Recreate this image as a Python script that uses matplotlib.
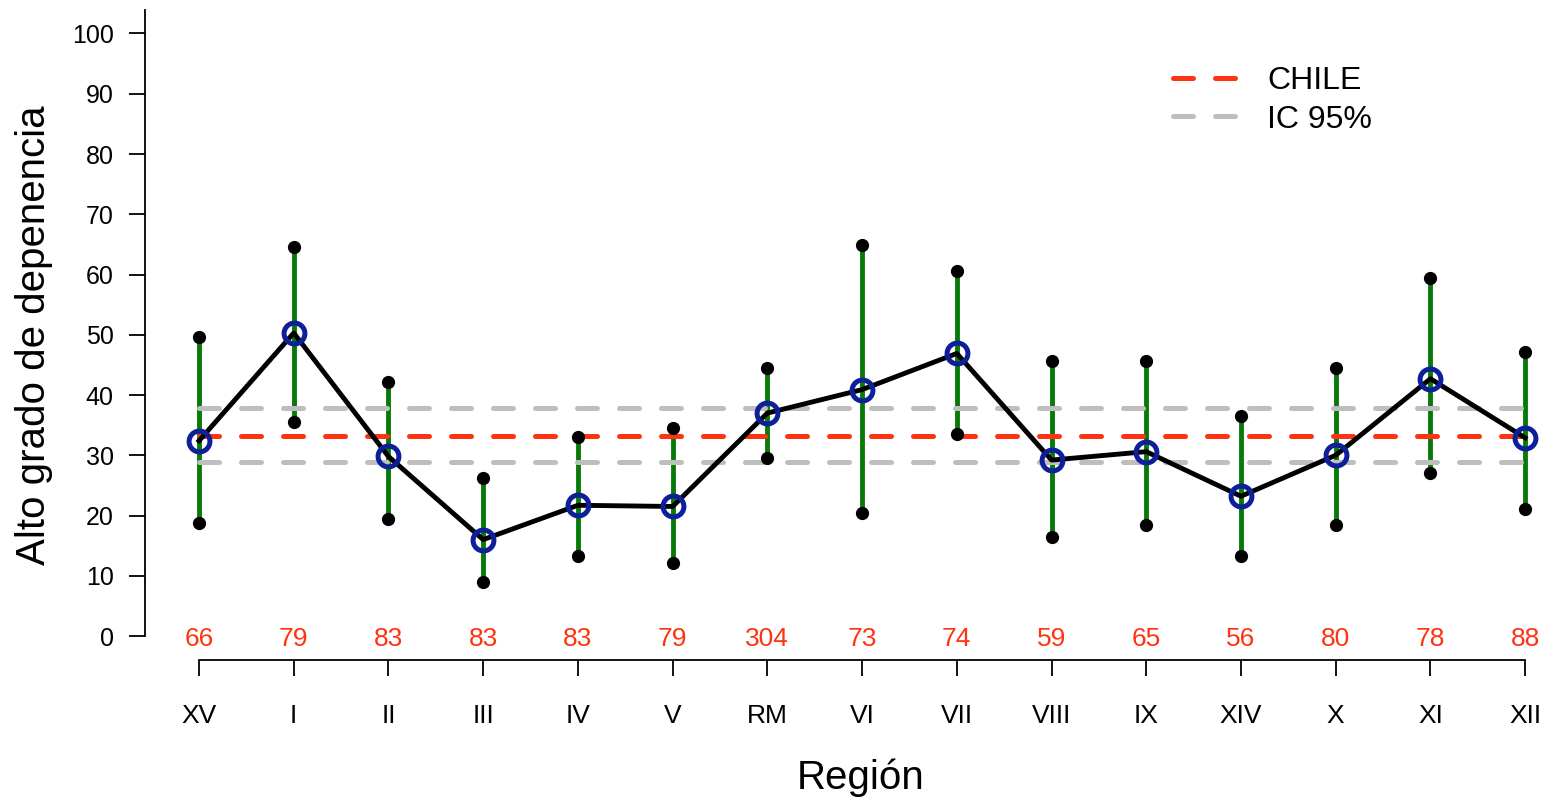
import numpy as np
import matplotlib
matplotlib.use('Agg')
import matplotlib.pyplot as plt

plt.rcParams['font.family'] = ['Liberation Sans', 'DejaVu Sans']

regiones = ['XV', 'I', 'II', 'III', 'IV', 'V', 'RM', 'VI', 'VII',
            'VIII', 'IX', 'XIV', 'X', 'XI', 'XII']
n_casos = [66, 79, 83, 83, 83, 79, 304, 73, 74, 59, 65, 56, 80, 78, 88]
media = [32.4, 50.3, 29.8, 16.0, 21.7, 21.5, 37.0, 40.9, 46.9,
         29.2, 30.6, 23.2, 30.0, 42.7, 32.9]
ic_inf = [18.7, 35.6, 19.5, 9.0, 13.3, 12.2, 29.6, 20.5, 33.6,
          16.5, 18.4, 13.3, 18.4, 27.0, 21.1]
ic_sup = [49.7, 64.6, 42.2, 26.2, 33.1, 34.5, 44.5, 64.9, 60.5,
          45.6, 45.6, 36.5, 44.5, 59.5, 47.1]
chile = 33.2
chile_inf = 28.9
chile_sup = 37.8

rojo = '#FF3311'
gris = '#BEBEBE'
verde = '#087A08'
azul = '#0D1F99'

x = np.arange(1, len(regiones) + 1)

fig = plt.figure(figsize=(15.46, 7.99), dpi=100)
ax = fig.add_axes([145 / 1546, 1 - 660 / 799, 1401 / 1546, 650 / 799])

# intervalos por region
ax.vlines(x, ic_inf, ic_sup, color=verde, lw=3.5, zorder=2)

# referencia nacional
dash = (4, 4.4)
ax.plot([x[0], x[-1]], [chile, chile], color=rojo, lw=3.6, dashes=dash,
        dash_capstyle='round', zorder=3, label='CHILE')
ax.plot([x[0], x[-1]], [chile_sup, chile_sup], color=gris, lw=3.6, dashes=dash,
        dash_capstyle='round', zorder=3, label='IC 95%')
ax.plot([x[0], x[-1]], [chile_inf, chile_inf], color=gris, lw=3.6, dashes=dash,
        dash_capstyle='round', zorder=3)

ax.plot(x, media, color='black', lw=3.5, zorder=4)
ax.plot(x, ic_inf, 'o', color='black', ms=8.5, zorder=5, clip_on=False)
ax.plot(x, ic_sup, 'o', color='black', ms=8.5, zorder=5, clip_on=False)
ax.plot(x, media, 'o', ms=15, mfc='none', mec=azul, mew=3.6, zorder=6, clip_on=False)

for xi, n in zip(x, n_casos):
    ax.text(xi, -0.5, str(n), color=rojo, fontsize=19, ha='center', va='center')

ax.set_xlim(0.43, 15.22)
ax.set_ylim(-3.98, 103.9)

ax.spines['top'].set_visible(False)
ax.spines['right'].set_visible(False)
ax.spines['left'].set_bounds(0, 103.9)
ax.spines['bottom'].set_bounds(1, 15)
ax.spines['left'].set_linewidth(1.3)
ax.spines['bottom'].set_linewidth(1.3)

ax.set_yticks(range(0, 101, 10))
ax.set_xticks(x)
ax.set_xticklabels(regiones)
ax.tick_params(axis='y', length=11.5, width=1.3, pad=11, labelsize=18)
ax.tick_params(axis='x', length=11.5, width=1.3, pad=20, labelsize=19)

ax.set_ylabel('Alto grado de depenencia', fontsize=29)
ax.yaxis.set_label_coords(-0.066, 0.5)
fig.text(861 / 1546, 1 - 778 / 799, 'Región', fontsize=29, ha='center', va='center')

ax.legend(loc='upper left', bbox_to_anchor=(1173 / 1546, 1 - 66 / 799),
          bbox_transform=fig.transFigure, frameon=False, fontsize=23,
          handlelength=2.0, handletextpad=0.95, labelspacing=0.27,
          borderpad=0, borderaxespad=0)

fig.savefig('out.png', dpi=100)
